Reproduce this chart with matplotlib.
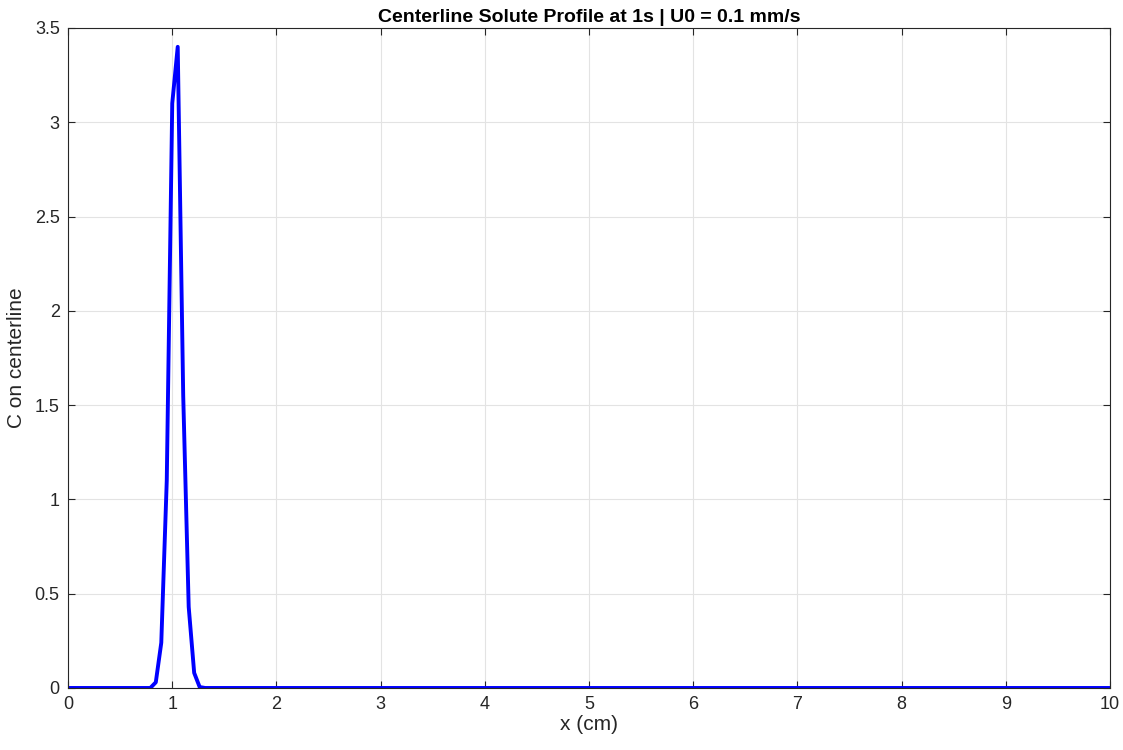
import numpy as np
import matplotlib
matplotlib.use("Agg")
import matplotlib.pyplot as plt

plt.rcParams['font.family'] = ['Liberation Sans', 'DejaVu Sans']

n_points = 191
x_cm = np.linspace(0, 10, n_points)
peak_start = 15
peak_values = [0.0, 0.03, 0.24, 1.1, 3.1, 3.4, 1.55, 0.43, 0.08, 0.005, 0.0]
c_center = [0.0] * peak_start + peak_values + [0.0] * (n_points - peak_start - len(peak_values))

fig = plt.figure(figsize=(11.23, 7.5), dpi=100)
ax = fig.add_axes([0.0606, 0.0827, 0.9278, 0.88])
ax.plot(x_cm, c_center, color='#0000ff', lw=2.8)
ax.set_xlim(0, 10)
ax.set_ylim(0, 3.5)
ax.set_xticks(range(0, 11))
ax.set_yticks(np.arange(0, 3.51, 0.5))
ax.set_yticklabels(['0', '0.5', '1', '1.5', '2', '2.5', '3', '3.5'])
ax.grid(True, color='#e3e3e3', lw=0.8)
ax.tick_params(direction='in', top=True, right=True, labelsize=13, colors='#262626', length=5, pad=6)
for s in ax.spines.values():
    s.set_color('#262626'); s.set_linewidth(0.8)
ax.set_xlabel('x (cm)', fontsize=15, color='#262626', labelpad=1)
ax.set_ylabel('C on centerline', fontsize=15, color='#262626', labelpad=6)
ax.set_title('Centerline Solute Profile at 1s | U0 = 0.1 mm/s', fontsize=14, fontweight='bold', pad=4)
fig.savefig('out.png', dpi=100)
